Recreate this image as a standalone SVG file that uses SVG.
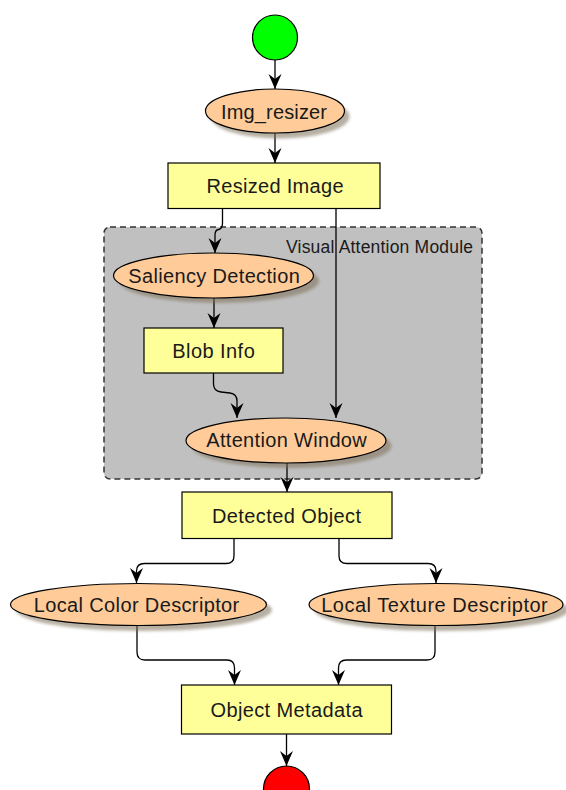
<svg xmlns="http://www.w3.org/2000/svg" width="566" height="790" viewBox="0 0 566 790">
  <defs>
    <marker id="arrow" markerUnits="userSpaceOnUse" viewBox="-16 -8 17 16" markerWidth="17" markerHeight="16" refX="0" refY="0" orient="auto">
      <path d="M0,0 Q-7,-3 -15,-6.5 L-10,0 L-15,6.5 Q-7,3 0,0 Z" fill="#000"/>
    </marker>
    <filter id="shadow" x="-10%" y="-20%" width="130%" height="160%">
      <feGaussianBlur stdDeviation="1.6"/>
    </filter>
    <style>
      .lbl { font-family: "Liberation Sans", Arial, sans-serif; font-size: 20px; fill: #1a1a1a; text-anchor: middle; }
      .grp-lbl { font-family: "Liberation Sans", Arial, sans-serif; font-size: 17.5px; fill: #1a1a1a; text-anchor: end; }
      .box { fill: #ffff99; stroke: #000; stroke-width: 1.2; }
      .oval { fill: #ffcc99; stroke: #000; stroke-width: 1.2; }
      .oval-shadow { fill: #7d6e57; opacity: 0.55; filter: url(#shadow); }
      .edge { fill: none; stroke: #000; stroke-width: 1.3; marker-end: url(#arrow); }
    </style>
  </defs>

  <rect width="566" height="790" fill="#ffffff"/>

  <!-- group: Visual Attention Module -->
  <g id="visual-attention-module">
    <rect x="104" y="227" width="378" height="252" rx="6" fill="#c0c0c0" stroke="#333" stroke-width="1.5" stroke-dasharray="6,4"/>
    <text class="grp-lbl" x="473" y="253" textLength="187">Visual Attention Module</text>
  </g>

  <!-- connectors -->
  <g id="edges">
    <path class="edge" d="M275,60 V89"/>
    <path class="edge" d="M275,133 V163"/>
    <path class="edge" d="M222.5,208.5 V223 Q222.5,229 218.5,229.5 Q215,230 215,235 V253"/>
    <path class="edge" d="M336,208.5 V418"/>
    <path class="edge" d="M214,298 V328"/>
    <path class="edge" d="M213.5,373 V384 Q213.5,391 221,392 L230,393 Q237,394 237,401 V418"/>
    <path class="edge" d="M287,463 V492"/>
    <path class="edge" d="M234,538.5 V556 Q234,563.5 226,563.5 H144.5 Q136.5,563.5 136.5,571 V583"/>
    <path class="edge" d="M339,538.5 V556 Q339,563.5 347,563.5 H428 Q436,563.5 436,571 V583"/>
    <path class="edge" d="M137,626 V652 Q137,660 145,660 H227 Q234.5,660 234.5,668 V685"/>
    <path class="edge" d="M435,626 V652 Q435,660 427,660 H346.5 Q338.5,660 338.5,668 V685"/>
    <path class="edge" d="M286.5,734 V766"/>
  </g>

  <!-- start -->
  <g id="start">
    <circle cx="275" cy="37.5" r="22.5" fill="#00ff00" stroke="#000" stroke-width="1.2"/>
  </g>

  <g id="img-resizer">
    <ellipse class="oval-shadow" cx="280" cy="116.5" rx="69.5" ry="22"/>
    <ellipse class="oval" cx="275" cy="111" rx="69.5" ry="22"/>
    <text class="lbl" x="274" y="118.5" textLength="106">Img_resizer</text>
  </g>

  <g id="resized-image">
    <rect class="box" x="168" y="163" width="212" height="45.5"/>
    <text class="lbl" x="275" y="193" textLength="137">Resized Image</text>
  </g>

  <g id="saliency-detection">
    <ellipse class="oval-shadow" cx="219" cy="281" rx="100" ry="22"/>
    <ellipse class="oval" cx="213.5" cy="275.5" rx="100" ry="22.5"/>
    <text class="lbl" x="214" y="282.5" textLength="171.5">Saliency Detection</text>
  </g>

  <g id="blob-info">
    <rect class="box" x="144" y="328" width="139" height="45"/>
    <text class="lbl" x="213.5" y="357.5" textLength="82.5">Blob Info</text>
  </g>

  <g id="attention-window">
    <ellipse class="oval-shadow" cx="291.5" cy="446" rx="100" ry="22"/>
    <ellipse class="oval" cx="286" cy="440.5" rx="100" ry="22.5"/>
    <text class="lbl" x="286.5" y="447" textLength="160.5">Attention Window</text>
  </g>

  <g id="detected-object">
    <rect class="box" x="182" y="492" width="210" height="46.5"/>
    <text class="lbl" x="286.5" y="522.5" textLength="149">Detected Object</text>
  </g>

  <g id="local-color-descriptor">
    <ellipse class="oval-shadow" cx="144" cy="610" rx="128" ry="21"/>
    <ellipse class="oval" cx="138.5" cy="604.5" rx="128" ry="21"/>
    <text class="lbl" x="136.5" y="611.5" textLength="205.5">Local Color Descriptor</text>
  </g>

  <g id="local-texture-descriptor">
    <ellipse class="oval-shadow" cx="441.5" cy="610" rx="127" ry="21"/>
    <ellipse class="oval" cx="436" cy="604.5" rx="127" ry="21"/>
    <text class="lbl" x="434.5" y="611.5" textLength="226.5">Local Texture Descriptor</text>
  </g>

  <g id="object-metadata">
    <rect class="box" x="181.5" y="685" width="210" height="49"/>
    <text class="lbl" x="286.5" y="717" textLength="152">Object Metadata</text>
  </g>

  <!-- end -->
  <g id="end">
    <circle cx="286.5" cy="789" r="23" fill="#ff0000" stroke="#000" stroke-width="1.2"/>
  </g>
</svg>
